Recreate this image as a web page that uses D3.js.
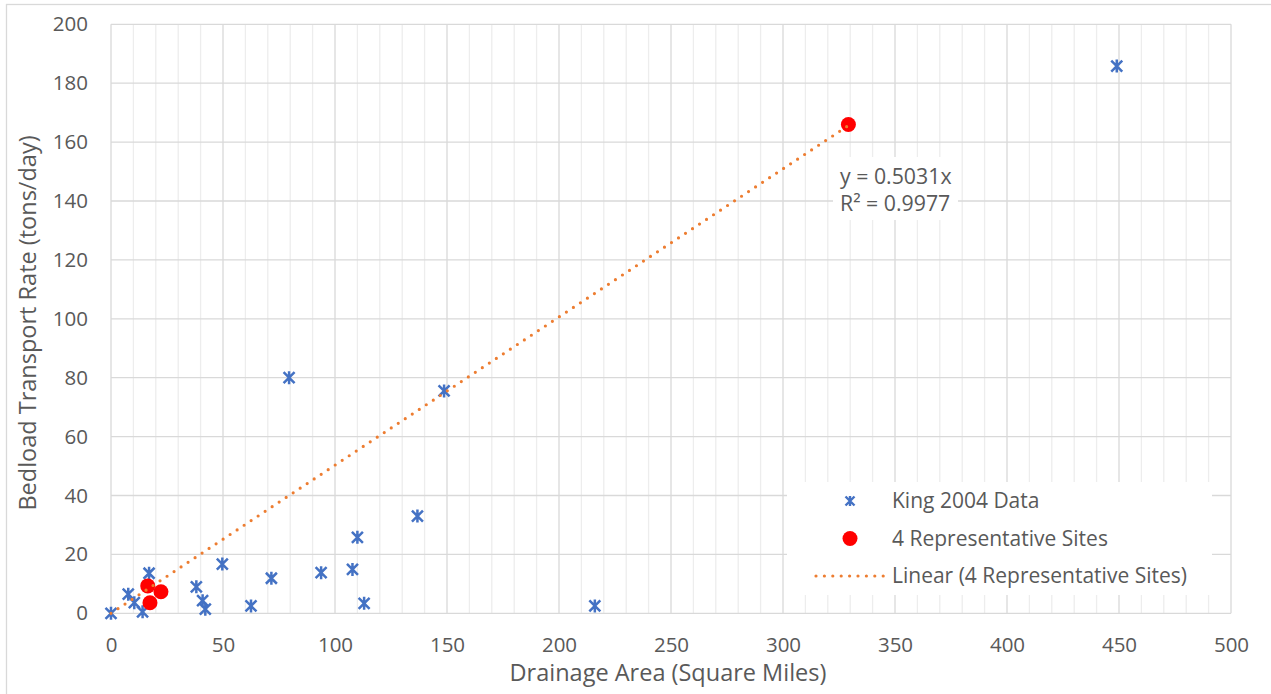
<!DOCTYPE html>
<html>
<head>
	<meta charset="utf-8">
	<script src="https://cdnjs.cloudflare.com/ajax/libs/d3/7.8.5/d3.min.js" charset="utf-8"></script>
	<style>
		body {
		  margin: 0;
		  background: #fff;
		  font-family: 'Open Sans', sans-serif;
		}
		text {
		  fill: #595959;
		}
		.tick text {
		  font-size: 20.5px;
		  font-family: 'Open Sans', sans-serif;
		}
	</style>
</head>
<body>

<div id="chart"></div>

<script>

///////////////////////////////////////////////////
//////////////////// The data /////////////////////
///////////////////////////////////////////////////

//King 2004 data - drainage area (sq mi) and bedload rate (tons/day)
var kingArea = [0, 7.7, 10.4, 14.1, 17.0, 38.1, 40.9, 42.1, 49.7, 62.5,
                71.6, 79.5, 93.8, 107.8, 110.0, 113.0, 136.8, 148.7, 216.0, 449.0];
var kingRate = [0, 6.5, 3.6, 0.5, 13.6, 9.0, 4.3, 1.4, 16.7, 2.5,
                11.9, 80.0, 13.8, 14.9, 25.8, 3.4, 33.0, 75.5, 2.5, 185.8];

//The 4 representative sites
var siteArea = [16.4, 17.4, 22.3, 329.2];
var siteRate = [9.3, 3.6, 7.3, 166.0];

//Linear trendline through origin (from the chart label)
var trendSlope = 0.5031;
var trendText = ["y = 0.5031x", "R\u00B2 = 0.9977"];

//Axis ticks
var xTicks = [0, 50, 100, 150, 200, 250, 300, 350, 400, 450, 500];
var xMinorTicks = d3.range(0, 501, 10);
var yTicks = [0, 20, 40, 60, 80, 100, 120, 140, 160, 180, 200];

var legendItems = ["King 2004 Data", "4 Representative Sites", "Linear (4 Representative Sites)"];

///////////////////////////////////////////////////
////////////// Initialize the SVG /////////////////
///////////////////////////////////////////////////

var width = 1271,
    height = 694;

var svg = d3.select("#chart")
    .append("svg")
        .attr("width", width)
        .attr("height", height);

//Chart border (left + top only visible)
svg.append("rect")
	.attr("x", 6.5)
	.attr("y", 4.5)
	.attr("width", 1300)
	.attr("height", 720)
	.style("fill", "none")
	.style("stroke", "#d9d9d9")
	.style("stroke-width", 1.3);

var x = d3.scaleLinear().domain([0, 500]).range([111, 1231]);
var y = d3.scaleLinear().domain([0, 200]).range([613.3, 24.3]);

///////////////////////////////////////////////////
/////////////////// Gridlines /////////////////////
///////////////////////////////////////////////////

svg.append("g").selectAll("line")
	.data(xMinorTicks)
   .enter().append("line")
	.attr("x1", function(d) { return x(d); })
	.attr("x2", function(d) { return x(d); })
	.attr("y1", y(200))
	.attr("y2", y(0))
	.style("stroke", function(d) { return d % 50 === 0 ? "#d9d9d9" : "#ededed"; })
	.style("stroke-width", 1.3);

svg.append("g").selectAll("line")
	.data(yTicks)
   .enter().append("line")
	.attr("x1", x(0))
	.attr("x2", x(500))
	.attr("y1", function(d) { return y(d); })
	.attr("y2", function(d) { return y(d); })
	.style("stroke", "#d9d9d9")
	.style("stroke-width", 1.3);

///////////////////////////////////////////////////
///////////////////// Axes ////////////////////////
///////////////////////////////////////////////////

svg.append("g")
	.attr("transform", "translate(0," + y(0) + ")")
	.call(d3.axisBottom(x).tickValues(xTicks).tickSize(0).tickPadding(24))
	.call(function(g) { g.select(".domain").remove(); });

svg.append("g")
	.attr("transform", "translate(" + x(0) + ",0)")
	.call(d3.axisLeft(y).tickValues(yTicks).tickSize(0).tickPadding(23))
	.call(function(g) { g.select(".domain").remove(); });

svg.selectAll(".tick text").style("fill", "#595959");

//Axis titles
svg.append("text")
	.attr("x", 668)
	.attr("y", 681)
	.style("text-anchor", "middle")
	.style("font-size", "23.5px")
	.text("Drainage Area (Square Miles)");

svg.append("text")
	.attr("transform", "translate(36,323) rotate(-90)")
	.style("text-anchor", "middle")
	.style("font-size", "23.5px")
	.text("Bedload Transport Rate (tons/day)");

///////////////////////////////////////////////////
/////////////////// Data marks ////////////////////
///////////////////////////////////////////////////

var starPath = "M-5.5,-5.5L5.5,5.5M-5.5,5.5L5.5,-5.5M0,-6.5L0,6.5";

svg.append("g").selectAll("path")
	.data(d3.range(kingArea.length))
   .enter().append("path")
	.attr("d", starPath)
	.attr("transform", function(i) { return "translate(" + x(kingArea[i]) + "," + y(kingRate[i]) + ")"; })
	.style("fill", "none")
	.style("stroke", "#4472c4")
	.style("stroke-width", 2.5);

svg.append("g").selectAll("circle")
	.data(d3.range(siteArea.length))
   .enter().append("circle")
	.attr("cx", function(i) { return x(siteArea[i]); })
	.attr("cy", function(i) { return y(siteRate[i]); })
	.attr("r", 7.5)
	.style("fill", "#ff0000");

//Trendline over the points
var trendEnd = d3.max(siteArea);
svg.append("line")
	.attr("x1", x(0))
	.attr("y1", y(0))
	.attr("x2", x(trendEnd))
	.attr("y2", y(trendSlope * trendEnd))
	.style("stroke", "#ed7d31")
	.style("stroke-width", 3.2)
	.style("stroke-linecap", "round")
	.style("stroke-dasharray", "0 8.4");

///////////////////////////////////////////////////
///////////////// Trendline label /////////////////
///////////////////////////////////////////////////

svg.append("rect")
	.attr("x", 833)
	.attr("y", 157)
	.attr("width", 125)
	.attr("height", 63)
	.style("fill", "#fff");

svg.selectAll(".trendLabel")
	.data(trendText)
   .enter().append("text")
	.attr("class", "trendLabel")
	.attr("x", 840)
	.attr("y", function(d, i) { return 183.5 + i * 27.5; })
	.style("font-size", "21.3px")
	.text(function(d) { return d; });

///////////////////////////////////////////////////
///////////////////// Legend //////////////////////
///////////////////////////////////////////////////

svg.append("rect")
	.attr("x", 787)
	.attr("y", 482)
	.attr("width", 425)
	.attr("height", 113)
	.style("fill", "#fff");

var legend = svg.selectAll(".legendItem")
	.data(legendItems)
   .enter().append("g")
	.attr("class", "legendItem")
	.attr("transform", function(d, i) { return "translate(0," + (501 + i * 37.5) + ")"; });

legend.filter(function(d, i) { return i === 0; })
	.append("path")
	.attr("d", "M-4.5,-4.5L4.5,4.5M-4.5,4.5L4.5,-4.5M0,-5L0,5")
	.attr("transform", "translate(850,0)")
	.style("fill", "none")
	.style("stroke", "#4472c4")
	.style("stroke-width", 2.4);

legend.filter(function(d, i) { return i === 1; })
	.append("circle")
	.attr("cx", 850)
	.attr("cy", 0)
	.attr("r", 7.5)
	.style("fill", "#ff0000");

legend.filter(function(d, i) { return i === 2; })
	.append("line")
	.attr("x1", 816)
	.attr("x2", 884)
	.attr("y1", 0)
	.attr("y2", 0)
	.style("stroke", "#ed7d31")
	.style("stroke-width", 3.2)
	.style("stroke-linecap", "round")
	.style("stroke-dasharray", "0 8.4");

legend.append("text")
	.attr("x", 892)
	.attr("y", 0)
	.attr("dy", "0.35em")
	.style("font-size", "21px")
	.text(function(d) { return d; });

</script>

</body>
</html>
